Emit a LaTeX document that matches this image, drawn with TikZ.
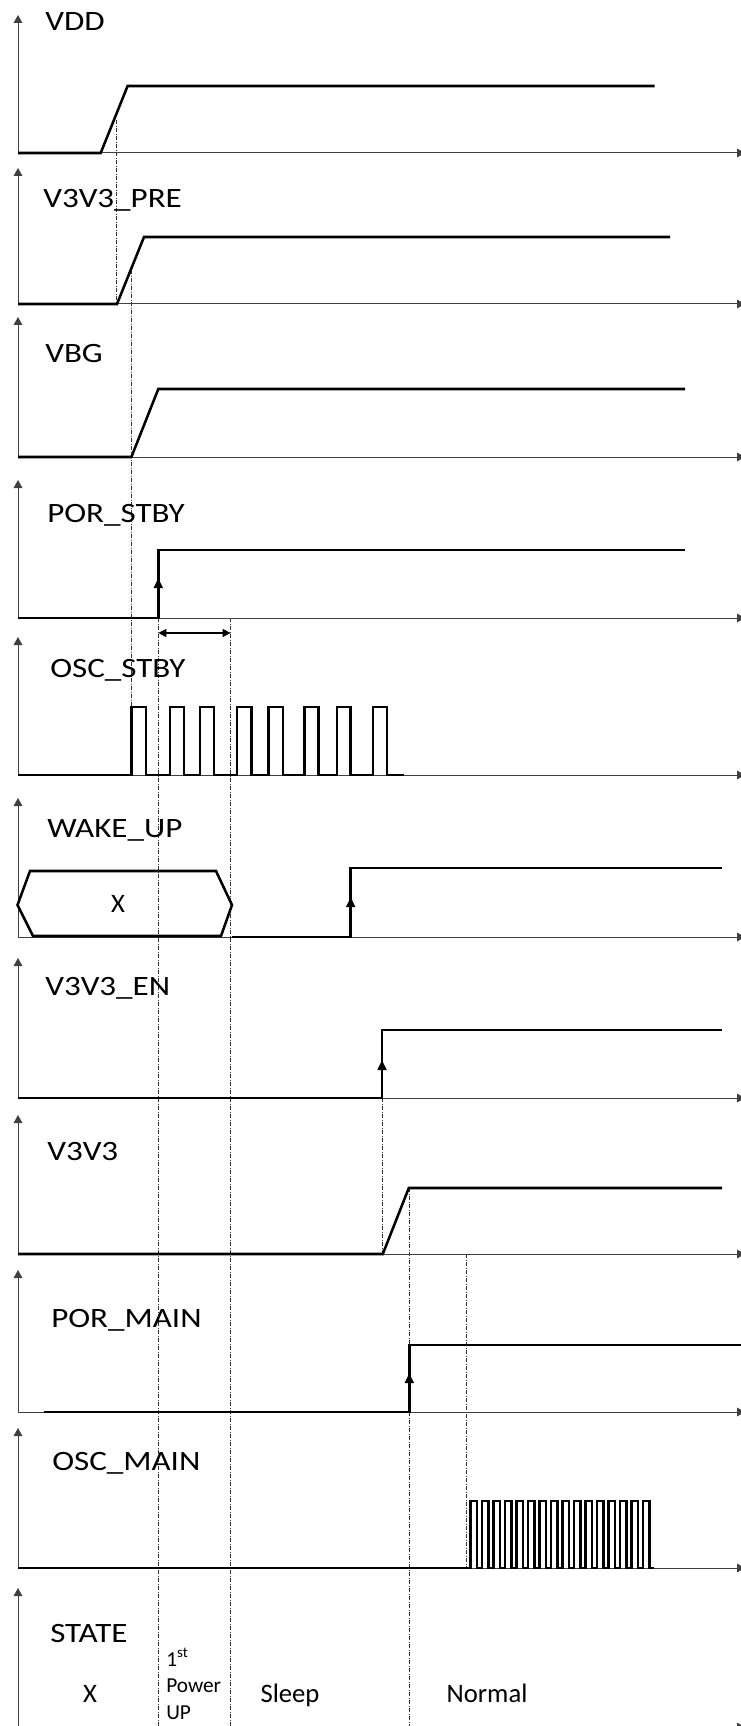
\documentclass[tikz,border=0pt]{standalone}
\usepackage{fontspec}
\setmainfont{Carlito}
\newfontfamily\signame[FakeStretch=1.18]{Carlito}
\usetikzlibrary{arrows.meta}

\begin{document}
\begin{tikzpicture}[x=0.75pt, y=-0.75pt, font=\fontsize{20}{24}\selectfont,
    sig/.style={line width=1.9pt},
    axis/.style={line width=0.75pt, black!75, -{Triangle[width=6.5pt,length=6pt]}},
    guide/.style={line width=0.5pt, black!80, dash pattern=on 3pt off 1.2pt on 0.6pt off 1.2pt},
    edge/.style={line width=1.9pt, -{Triangle[width=6.5pt,length=7.5pt]}},
    lbl/.style={anchor=base west, inner sep=0pt, font=\signame\fontsize{21}{25}\selectfont}]
  \useasboundingbox (0,0) rectangle (741,1726);

  % time guides
  \draw[guide] (116,120) -- (116,304);
  \draw[guide] (131.4,270) -- (131.4,775);
  \draw[guide] (158.3,618) -- (158.3,1726);
  \draw[guide] (230.6,618) -- (230.6,1726);
  \draw[guide] (382,1098) -- (382,1254);
  \draw[guide] (409.3,1188) -- (409.3,1726);
  \draw[guide] (466,1254) -- (466,1568);

  % axes and names
  \foreach \tip/\base/\lx/\lb/\nm/\txt in {15/153/45/31/vdd/VDD, 168/304/43/208/pre/V3V3\_PRE,
      317/457/45/363/vbg/VBG, 480/618/47/522/porstby/POR\_STBY, 637/775/50/677/oscstby/OSC\_STBY,
      798/937/47/837/wake/WAKE\_UP, 958/1098/45/995/en/V3V3\_EN, 1115/1254/47/1160/vmain/V3V3,
      1270/1412/51/1327/pormain/POR\_MAIN, 1428/1568/52/1470/oscmain/OSC\_MAIN,
      1588/1727/50/1642/state/STATE}{
    \draw[axis] (18,\base) -- (18,\tip);
    \draw[axis] (18,\base) -- (745,\base);
    \node[lbl] (\nm) at (\lx,\lb) {\txt};
  }

  % supplies
  \draw[sig] (18,153) -- (100.7,153) -- (127.6,86) -- (654.5,86);
  \draw[sig] (18,304) -- (117,304) -- (144,237) -- (670,237);
  \draw[sig] (18,457) -- (131.4,457) -- (158.3,389) -- (685,389);
  \draw[sig] (18,618) -- (158.3,618) -- (158.3,550) -- (685,550);
  \draw[edge] (158.3,618) -- (158.3,578);
  \draw[line width=1pt, {Triangle[width=6pt,length=6pt]}-{Triangle[width=6pt,length=6pt]}]
    (158.3,633) -- (230.6,633);

  % standby oscillator
  \draw[sig] (18,775) foreach \r/\f in {131.5/146, 170/184, 200/214, 237/251.5,
      268.5/283, 304.5/318.5, 337/350.5, 373/387}
    { -- (\r,775) -- (\r,707) -- (\f,707) -- (\f,775) } -- (404,775);

  % wake up
  \draw[sig] (17.5,905) -- (30,871) -- (216,871) -- (232,905) -- (221,936) -- (33,936) -- cycle;
  \node[anchor=base] (wx) at (118,912) {X};
  \draw[sig] (232,937) -- (350.7,937) -- (350.7,868) -- (722,868);
  \draw[edge] (350.7,937) -- (350.7,897);

  % main supply
  \draw[sig] (18,1098) -- (382,1098) -- (382,1030) -- (722,1030);
  \draw[edge] (382,1098) -- (382,1060);
  \draw[sig] (18,1254) -- (382.8,1254) -- (408.8,1188) -- (722,1188);
  \draw[sig] (43.5,1412) -- (409.3,1412) -- (409.3,1345) -- (741,1345);
  \draw[edge] (409.3,1412) -- (409.3,1373);

  % main oscillator
  \draw[sig] (18,1568) foreach \k in {0,...,15}
    { -- ({470.7+11.5*\k},1568) -- ({470.7+11.5*\k},1501) -- ({477+11.5*\k},1501) -- ({477+11.5*\k},1568) }
    -- (654,1568);

  % states
  \node[anchor=base] (sx) at (90,1702) {X};
  \node[anchor=north west, align=left, inner sep=0pt, font=\fontsize{16}{20}\selectfont]
    (spwr) at (166,1648) {1\textsuperscript{st}\\Power\\UP};
  \node[anchor=base] (ssleep) at (290,1702) {Sleep};
  \node[anchor=base] (snorm) at (487,1702) {Normal};
\end{tikzpicture}
\end{document}
